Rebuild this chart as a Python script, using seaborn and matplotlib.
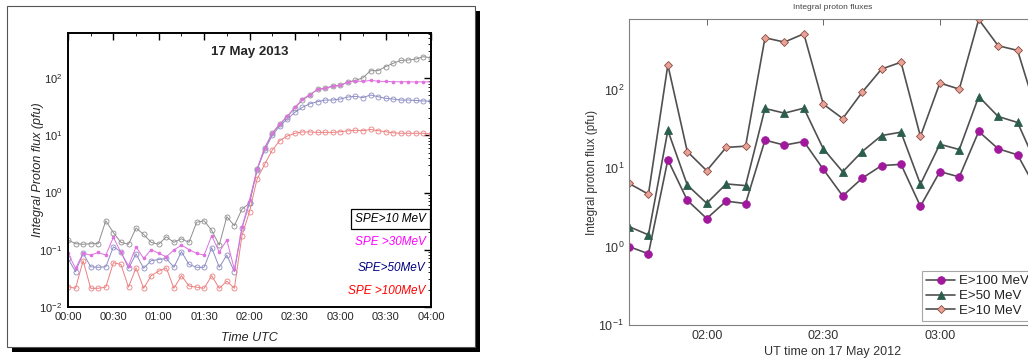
import numpy as np
import pandas as pd
import matplotlib
matplotlib.use("Agg")
from matplotlib import pyplot as plt
from matplotlib.patches import Rectangle
from matplotlib.ticker import FixedLocator, LogLocator, NullFormatter
import seaborn as sns

# left panel: 17 May 2013, 5-minute samples 00:00 .. 04:00
left_minutes = np.arange(0, 245, 5)
spe10 = [0.147, 0.127, 0.124, 0.127, 0.127, 0.32, 0.198, 0.134, 0.124, 0.239,
         0.185, 0.134, 0.124, 0.168, 0.134, 0.155, 0.134, 0.30, 0.32, 0.217,
         0.12, 0.377, 0.262, 0.51, 0.65, 2.54, 5.9, 10.9, 15.6, 21.2,
         30.5, 41.6, 51, 64, 66.6, 73, 75, 86, 92, 102,
         136, 136, 160, 183, 206, 209, 217, 239, 229]
spe30 = [0.086, 0.047, 0.086, 0.080, 0.089, 0.080, 0.164, 0.089, 0.052, 0.112,
         0.070, 0.10, 0.086, 0.075, 0.098, 0.12, 0.10, 0.086, 0.080, 0.175,
         0.091, 0.147, 0.045, 0.245, 0.74, 2.54, 6.1, 10.9, 15.8, 21.8,
         31, 43, 52, 64, 66.6, 73, 75, 86, 90, 88,
         92, 89, 88, 87, 87, 87, 86, 87, 86]
spe50 = [0.070, 0.041, 0.086, 0.050, 0.049, 0.050, 0.112, 0.092, 0.047, 0.084,
         0.047, 0.064, 0.067, 0.070, 0.049, 0.092, 0.055, 0.049, 0.049, 0.108,
         0.049, 0.080, 0.041, 0.235, 0.65, 2.5, 5.5, 10.0, 14.6, 19.4,
         25.3, 31, 35.9, 38.9, 41.6, 41.6, 43.3, 47, 48.3, 46,
         51, 47.6, 44.6, 43.3, 41.6, 41.6, 41, 40, 40]
spe100 = [0.0224, 0.021, 0.064, 0.021, 0.021, 0.022, 0.059, 0.055, 0.022, 0.048,
          0.021, 0.035, 0.042, 0.048, 0.021, 0.035, 0.023, 0.022, 0.021, 0.035,
          0.021, 0.028, 0.021, 0.175, 0.46, 1.72, 3.1, 5.5, 8.1, 9.75,
          10.9, 11.5, 11.5, 11.3, 11.3, 11.3, 11.6, 12, 12.3, 12.1,
          12.7, 12.1, 11.6, 11.1, 10.9, 10.9, 10.9, 10.9, 10.6]
left_ticks = [0, 30, 60, 90, 120, 150, 180, 210, 240]
left_tick_labels = ["00:00", "00:30", "01:00", "01:30", "02:00",
                    "02:30", "03:00", "03:30", "04:00"]
left_names = ["SPE>10 MeV", "SPE >30MeV", "SPE>50MeV", "SPE >100MeV"]

# right panel: 17 May 2012, 01:40 .. 03:25
right_minutes = np.arange(100, 210, 5)
e100 = [1.0, 0.81, 12.8, 3.9, 2.28, 3.8, 3.54, 22.8, 19.7, 21.9, 9.7,
        4.43, 7.45, 10.8, 11.2, 3.27, 9.05, 7.74, 29.4, 17.7, 14.8, 5.2]
e50 = [1.8, 1.41, 30.3, 6.1, 3.57, 6.3, 6.0, 57.8, 50.4, 58.3, 17.7,
       9.0, 16.3, 26.1, 28.8, 6.25, 20.2, 17.3, 82, 45.7, 38.3, 10.7]
e10 = [6.4, 4.66, 208, 16.3, 9.3, 18.4, 19.1, 461, 406, 518, 65.6,
       43, 93, 184, 225, 25.4, 122, 102, 790, 365, 318, 50]
right_ticks = [120, 150, 180]
right_tick_labels = ["02:00", "02:30", "03:00"]

sns.set_style("white")
plt.rcParams["font.family"] = ["Liberation Sans", "DejaVu Sans"]
plt.rcParams["mathtext.fontset"] = "custom"
plt.rcParams["mathtext.rm"] = "Liberation Sans"

W, H = 1028, 363
fig = plt.figure(figsize=(W / 100, H / 100), dpi=100)

def px_axes(l, t, r, b):
    return fig.add_axes([l / W, 1 - b / H, (r - l) / W, (b - t) / H])

# paper frame with drop shadow around the left chart
fig.patches.append(Rectangle((12 / W, 1 - 352 / H), 468 / W, 341 / H,
                             transform=fig.transFigure, facecolor="black",
                             edgecolor="none", zorder=-3))
fig.patches.append(Rectangle((7 / W, 1 - 347 / H), 468 / W, 341 / H,
                             transform=fig.transFigure, facecolor="white",
                             edgecolor="#555555", linewidth=0.8, zorder=-2))

# ---------------- left chart ----------------
ax1 = px_axes(68, 33.3, 431, 306.7)
ax1.set_facecolor("none")
df_left = pd.DataFrame({"t": left_minutes, "s10": spe10, "s30": spe30,
                        "s50": spe50, "s100": spe100})
left_styles = [("s10", "#8e8e8e", "o", 3.6, "none"),
               ("s50", "#8c8cc4", "o", 3.6, "none"),
               ("s100", "#ec8080", "o", 3.6, "none"),
               ("s30", "#e070e0", "o", 2.0, "#e070e0")]
for col, c, m, ms, fc in left_styles:
    sns.lineplot(data=df_left, x="t", y=col, ax=ax1, color=c, linewidth=0.7,
                 marker=m, markersize=ms, markerfacecolor=fc,
                 markeredgecolor=c, markeredgewidth=0.6, estimator=None)
ax1.set_yscale("log")
ax1.set_ylim(1e-2, 614)
ax1.set_xlim(0, 240)
ax1.set_xticks(left_ticks)
ax1.set_xticklabels(left_tick_labels)
ax1.xaxis.set_minor_locator(FixedLocator(np.arange(15, 240, 30)))
ax1.yaxis.set_minor_locator(LogLocator(base=10, subs=np.arange(2, 10), numticks=20))
ax1.yaxis.set_minor_formatter(NullFormatter())
ax1.tick_params(which="both", direction="in", top=True, right=True,
                labelsize=8, color="black", pad=4)
ax1.tick_params(which="major", length=5, width=1)
ax1.tick_params(which="minor", length=2.5, width=0.6)
for s in ax1.spines.values():
    s.set_linewidth(1.4)
    s.set_color("black")
ax1.set_xlabel("Time UTC", fontsize=9, style="italic", labelpad=7)
ax1.set_ylabel("Integral Proton flux (pfu)", fontsize=9, style="italic", labelpad=-3)
ax1.text(0.5, 0.93, "17 May 2013", transform=ax1.transAxes, ha="center",
         va="center", fontsize=9.5, fontweight="bold")
legend_colors = ["black", "#ff00ff", "#000080", "#ff0000"]
legend_y = [0.32, 0.235, 0.14, 0.057]
for name, c, yy in zip(left_names, legend_colors, legend_y):
    kw = {}
    if name == left_names[0]:
        kw["bbox"] = dict(boxstyle="square,pad=0.35", facecolor="white",
                          edgecolor="black", linewidth=0.9)
    ax1.text(0.985, yy, name, transform=ax1.transAxes, ha="right", va="center",
             fontsize=8.5, style="italic", color=c, **kw)

# ---------------- right chart ----------------
ax2 = px_axes(629, 19, 1037, 325)
df_right = pd.DataFrame({"t": right_minutes, "e100": e100, "e50": e50, "e10": e10})
right_styles = [("e100", "E>100 MeV", "o", 5.5, "#a0189c", "#a0189c"),
                ("e50", "E>50 MeV", "^", 5.5, "#2c5e4e", "#2c5e4e"),
                ("e10", "E>10 MeV", "D", 4.5, "#eaa296", "#8a4c44")]
for col, lab, m, ms, fc, ec in right_styles:
    sns.lineplot(data=df_right, x="t", y=col, ax=ax2, color="#505050",
                 linewidth=1.2, marker=m, markersize=ms, markerfacecolor=fc,
                 markeredgecolor=ec, markeredgewidth=0.6, estimator=None,
                 label=lab)
ax2.set_yscale("log")
ax2.set_ylim(0.1, 800)
ax2.set_xlim(100, 205)
ax2.set_xticks(right_ticks)
ax2.set_xticklabels(right_tick_labels)
ax2.yaxis.set_minor_locator(LogLocator(base=10, subs=np.arange(2, 10), numticks=20))
ax2.yaxis.set_minor_formatter(NullFormatter())
ax2.tick_params(which="both", direction="in", top=True, right=True,
                labelsize=9, labelcolor="#333333", color="#666666")
ax2.tick_params(which="major", length=4, width=0.7)
ax2.tick_params(which="minor", length=2, width=0.5)
for s in ax2.spines.values():
    s.set_linewidth(0.8)
    s.set_color("#808080")
ax2.set_xlabel("UT time on 17 May 2012", fontsize=9, color="#333333", labelpad=3)
ax2.set_ylabel("Integral proton flux (pfu)", fontsize=8.5, color="#333333", labelpad=0)
ax2.set_title("Integral proton fluxes", fontsize=6, color="#444444", pad=7)
leg = ax2.legend(loc="lower right", fontsize=9.5, frameon=True, fancybox=False,
                 edgecolor="#909090", borderpad=0.3, handlelength=2.2,
                 handletextpad=0.3, labelspacing=0.2, borderaxespad=0.3)
leg.get_frame().set_linewidth(0.8)
for t in leg.get_texts():
    t.set_color("#222222")

fig.savefig("out.png", dpi=100)
